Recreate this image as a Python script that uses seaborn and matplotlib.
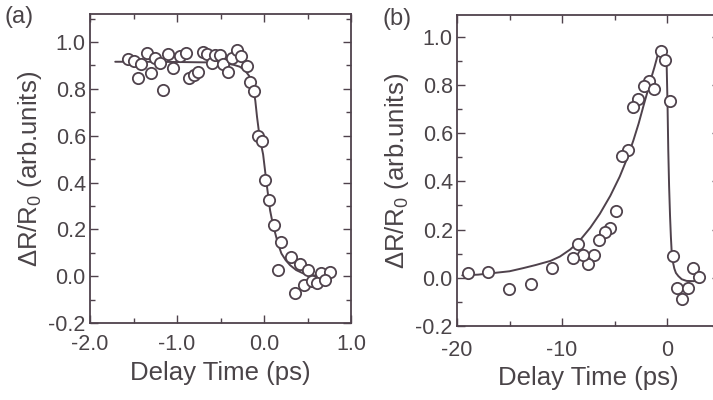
import numpy as np
import pandas as pd
import matplotlib
matplotlib.use("Agg")
import matplotlib.pyplot as plt
from matplotlib.ticker import MultipleLocator
import seaborn as sns

# ---- Panel (a) data ----
a_x = [-1.56, -1.50, -1.35, -1.41, -1.45, -1.25, -1.30, -1.20, -1.16, -1.10,
       -1.05, -0.97, -0.90, -0.86, -0.81, -0.76, -0.70, -0.66, -0.60, -0.56,
       -0.51, -0.47, -0.41, -0.37, -0.31, -0.26, -0.20, -0.16, -0.11, -0.07,
       -0.02, 0.01, 0.06, 0.11, 0.20, 0.31, 0.16, 0.41, 0.51, 0.65, 0.76,
       0.36, 0.46, 0.55, 0.61, 0.70]
a_y = [0.929, 0.919, 0.952, 0.905, 0.845, 0.933, 0.869, 0.912, 0.794, 0.948,
       0.891, 0.940, 0.954, 0.848, 0.860, 0.874, 0.957, 0.948, 0.912, 0.943,
       0.943, 0.905, 0.874, 0.933, 0.965, 0.940, 0.898, 0.831, 0.789, 0.600,
       0.579, 0.411, 0.326, 0.217, 0.146, 0.082, 0.026, 0.051, 0.028, 0.014,
       0.017, -0.071, -0.038, -0.021, -0.031, -0.017]
# fit curve (a)
a_fit_x = [-1.71, -1.40, -1.00, -0.60, -0.45, -0.35, -0.28, -0.22, -0.17,
           -0.13, -0.10, -0.08, -0.05, -0.01, 0.03, 0.07, 0.10, 0.13, 0.16,
           0.20, 0.25, 0.30, 0.37, 0.45, 0.53, 0.61, 0.72]
a_fit_y = [0.916, 0.916, 0.915, 0.913, 0.909, 0.903, 0.895, 0.880, 0.855,
           0.815, 0.750, 0.680, 0.593, 0.520, 0.395, 0.281, 0.225, 0.182, 0.140,
           0.097, 0.068, 0.047, 0.026, 0.012, 0.005, 0.002, 0.0]

# ---- Panel (b) data ----
b_x = [-0.60, -0.16, 0.31, -1.69, -2.19, -1.21, -2.73, -3.21, -3.71, -4.26,
       -4.86, -5.43, -5.90, -6.45, -6.95, -7.50, -7.97, -8.45, -8.98, -10.98,
       -12.98, -15.02, -17.02, -18.98, 0.54, 0.98, 1.43, 1.97, 2.50, 3.05]
b_y = [0.940, 0.903, 0.733, 0.815, 0.795, 0.781, 0.740, 0.710, 0.528, 0.507,
       0.279, 0.207, 0.189, 0.156, 0.093, 0.059, 0.095, 0.142, 0.083, 0.041,
       -0.024, -0.046, 0.026, 0.018, 0.090, -0.041, -0.090, -0.041, 0.041, 0.004]
# fit curve (b)
b_fit_x = [-19.5, -18.0, -16.9, -15.0, -13.7, -12.5, -11.1, -10.2, -9.2,
           -8.3, -7.3, -6.4, -5.4, -4.5, -3.8, -3.2, -2.7, -2.26, -1.85,
           -1.46, -1.20, -0.92, -0.67, -0.45, -0.20, -0.03, 0.05, 0.12, 0.20,
           0.29, 0.37, 0.45, 0.55, 0.70, 0.85, 1.08, 1.40, 1.87, 2.50, 3.14]
b_fit_y = [0.010, 0.013, 0.018, 0.027, 0.040, 0.053, 0.070, 0.088, 0.118,
           0.155, 0.208, 0.265, 0.340, 0.420, 0.495, 0.570, 0.640, 0.710, 0.773,
           0.835, 0.873, 0.918, 0.945, 0.925, 0.897, 0.878, 0.720, 0.532, 0.380,
           0.256, 0.170, 0.104, 0.068, 0.038, 0.020, 0.007, -0.006, -0.013,
           -0.014, -0.012]

a_xticks = [-2.0, -1.0, 0.0, 1.0]
a_xticklabels = ["-2.0", "-1.0", "0.0", "1.0"]
b_xticks = [-20, -10, 0]
b_xticklabels = ["-20", "-10", "0"]
yticks = [-0.2, 0.0, 0.2, 0.4, 0.6, 0.8, 1.0]
yticklabels = ["-0.2", "0.0", "0.2", "0.4", "0.6", "0.8", "1.0"]

sns.set_theme(style="ticks")
plt.rcParams['font.family'] = ['Liberation Sans', 'DejaVu Sans']
plt.rcParams['mathtext.fontset'] = 'custom'
plt.rcParams['mathtext.rm'] = 'Liberation Sans'
plt.rcParams['mathtext.it'] = 'Liberation Sans'

ink = "#4f424c"
text_c = "#4a4448"

fig = plt.figure(figsize=(7.13, 4.0), dpi=100)
ax_a = fig.add_axes([90/713, 1-323/400, 261/713, 309/400])
ax_b = fig.add_axes([457/713, 1-326/400, 262.5/713, 311/400])

dfa = pd.DataFrame({"x": a_x, "y": a_y})
dfa_fit = pd.DataFrame({"x": a_fit_x, "y": a_fit_y})
dfb = pd.DataFrame({"x": b_x, "y": b_y})
dfb_fit = pd.DataFrame({"x": b_fit_x, "y": b_fit_y})

for ax, dfp, dff in [(ax_a, dfa, dfa_fit), (ax_b, dfb, dfb_fit)]:
    sns.lineplot(data=dff, x="x", y="y", ax=ax, color=ink, lw=1.4,
                 sort=False, estimator=None, zorder=2)
    sns.scatterplot(data=dfp, x="x", y="y", ax=ax, s=66, facecolor="white",
                    edgecolor=ink, linewidth=1.3, zorder=3, clip_on=False)

ax_a.set_xlim(-2.0, 1.0)
ax_a.set_ylim(-0.2, 1.12)
ax_b.set_xlim(-20, 5)
ax_b.set_ylim(-0.2, 1.09)

ax_a.set_xticks(a_xticks)
ax_a.set_xticklabels(a_xticklabels)
ax_a.xaxis.set_minor_locator(MultipleLocator(0.5))
ax_b.set_xticks(b_xticks)
ax_b.set_xticklabels(b_xticklabels)
ax_b.xaxis.set_minor_locator(MultipleLocator(5))

for ax, xpad in ((ax_a, 8), (ax_b, 10)):
    ax.set_yticks(yticks)
    ax.set_yticklabels(yticklabels)
    ax.yaxis.set_minor_locator(MultipleLocator(0.1))
    ax.tick_params(which="both", direction="in", top=True, right=True,
                   color=ink, width=1.0, labelsize=15.5, labelcolor=text_c, pad=3)
    ax.tick_params(axis="x", which="major", pad=xpad)
    ax.tick_params(which="major", length=6)
    ax.tick_params(which="minor", length=3.5)
    for sp in ax.spines.values():
        sp.set_color(ink)
        sp.set_linewidth(1.3)
        sp.set_visible(True)
    ax.set_xlabel("Delay Time (ps)", fontsize=18.5, color=text_c, labelpad=4)
    ax.set_ylabel(r"$\Delta$R/R$_0$ (arb.units)", fontsize=18.5, color=text_c,
                  labelpad=3)

fig.text(5/713, 1-17/400, "(a)", fontsize=17, color=text_c, va="center", ha="left")
fig.text(383/713, 1-19/400, "(b)", fontsize=17, color=text_c, va="center", ha="left")

fig.savefig("out.png", dpi=100)
